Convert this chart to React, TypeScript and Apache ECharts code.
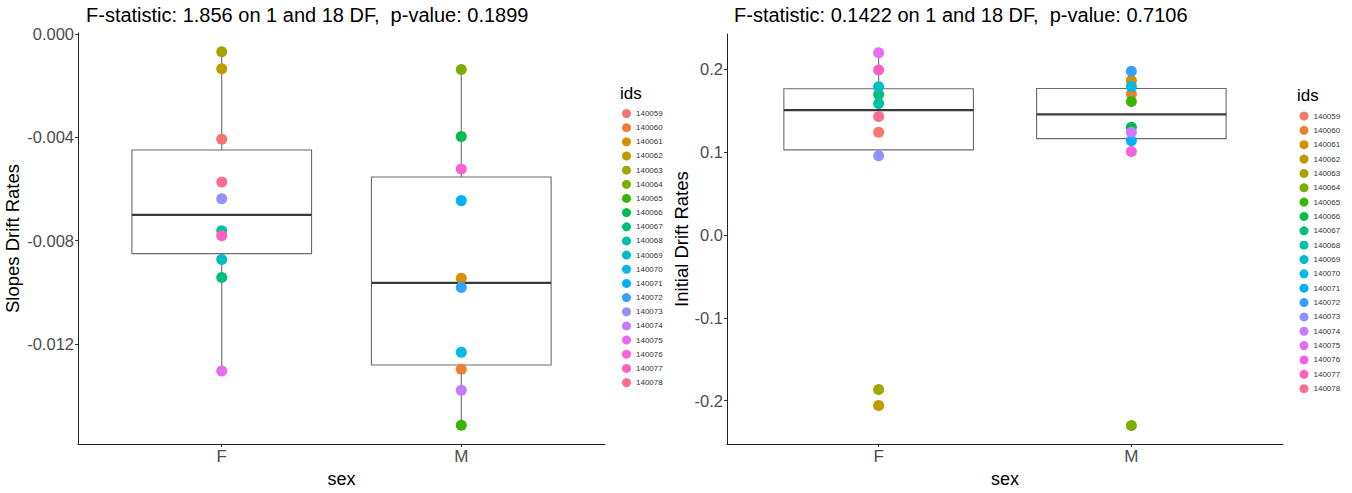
import React, { useEffect, useRef } from "react";
import * as echarts from "echarts";

const ids = [
  "140059", "140060", "140061", "140062", "140063", "140064", "140065", "140066", "140067", "140068",
  "140069", "140070", "140071", "140072", "140073", "140074", "140075", "140076", "140077", "140078",
];
const idColors = [
  "#F8766D", "#EA8331", "#D89000", "#C09B00", "#A3A500", "#7CAE00", "#39B600", "#00BB4E", "#00BF7D", "#00C1A3",
  "#00BFC4", "#00BAE0", "#00B0F6", "#35A2FF", "#9590FF", "#C77CFF", "#E76BF3", "#FA62DB", "#FF62BC", "#FF6C91",
];
const sexCategories = ["F", "M"];
const sexOfId = ["F", "M", "M", "F", "F", "M", "M", "M", "F", "F", "F", "M", "M", "M", "F", "M", "F", "M", "F", "F"];
const slopes = [
  -0.00408, -0.01297, -0.00945, -0.00135, -0.00069, -0.00138, -0.01514, -0.00397, -0.00942, -0.00762,
  -0.00873, -0.01231, -0.00645, -0.00981, -0.00638, -0.01378, -0.01304, -0.00523, -0.00781, -0.00573,
];
const initials = [
  0.124, 0.170, 0.1865, -0.2058, -0.1865, -0.2299, 0.161, 0.130, 0.1696, 0.1586,
  0.1787, 0.179, 0.1137, 0.1975, 0.0956, 0.124, 0.220, 0.1007, 0.199, 0.1429,
];
const leftTicks = [0, -0.004, -0.008, -0.012];
const rightTicks = [0.2, 0.1, 0, -0.1, -0.2];
const leftTitle = "F-statistic: 1.856 on 1 and 18 DF,  p-value: 0.1899";
const rightTitle = "F-statistic: 0.1422 on 1 and 18 DF,  p-value: 0.7106";

function quantile(sorted: number[], p: number) {
  const h = (sorted.length - 1) * p;
  const lo = Math.floor(h);
  const hi = Math.ceil(h);
  return sorted[lo] + (h - lo) * (sorted[hi] - sorted[lo]);
}

function boxStats(values: number[]) {
  return sexCategories.map((s, ci) => {
    const v = values.filter((_, i) => sexOfId[i] === s).sort((a, b) => a - b);
    const q1 = quantile(v, 0.25);
    const med = quantile(v, 0.5);
    const q3 = quantile(v, 0.75);
    const iqr = q3 - q1;
    const inside = v.filter((x) => x >= q1 - 1.5 * iqr && x <= q3 + 1.5 * iqr);
    return [ci + 1, Math.min(...inside), q1, med, q3, Math.max(...inside)];
  });
}

function range(values: number[]) {
  const mn = Math.min(...values);
  const mx = Math.max(...values);
  const e = (mx - mn) * 0.05;
  return [mn - e, mx + e];
}

const FONT = "'Liberation Sans', Arial, Helvetica, sans-serif";

function renderBox(params: any, api: any) {
  const x = api.value(0);
  const half = api.size([0.75, 0])[0] / 2;
  const pLo = api.coord([x, api.value(1)]);
  const pQ1 = api.coord([x, api.value(2)]);
  const pMed = api.coord([x, api.value(3)]);
  const pQ3 = api.coord([x, api.value(4)]);
  const pHi = api.coord([x, api.value(5)]);
  const lineStyle = { stroke: "#6b6b6b", lineWidth: 1.1 };
  return {
    type: "group",
    children: [
      { type: "line", shape: { x1: pHi[0], y1: pHi[1], x2: pQ3[0], y2: pQ3[1] }, style: lineStyle },
      { type: "line", shape: { x1: pQ1[0], y1: pQ1[1], x2: pLo[0], y2: pLo[1] }, style: lineStyle },
      {
        type: "rect",
        shape: { x: pQ3[0] - half, y: pQ3[1], width: half * 2, height: pQ1[1] - pQ3[1] },
        style: { fill: "#ffffff", stroke: "#6b6b6b", lineWidth: 1.1 },
      },
      {
        type: "line",
        shape: { x1: pMed[0] - half, y1: pMed[1], x2: pMed[0] + half, y2: pMed[1] },
        style: { stroke: "#3a3a3a", lineWidth: 2.2 },
      },
    ],
  };
}

export default function App() {
  const ref = useRef<HTMLDivElement>(null);
  useEffect(() => {
    document.body.style.margin = "0";
    const chart = echarts.init(ref.current!, null, { renderer: "svg" });
    const lRange = range(slopes);
    const rRange = range(initials);

    const xAxisBase = (gridIndex: number) => ({
      type: "value",
      gridIndex,
      min: 0.4,
      max: 2.6,
      name: "sex",
      nameLocation: "middle",
      nameGap: 20,
      nameTextStyle: { fontFamily: FONT, fontSize: 18, color: "#000" },
      axisLine: { show: true, onZero: false, lineStyle: { color: "#222", width: 1 } },
      axisTick: { show: true, length: 3, lineStyle: { color: "#333" }, customValues: [1, 2] },
      axisLabel: {
        show: true,
        margin: 4,
        customValues: [1, 2],
        formatter: (v: number) => sexCategories[Math.round(v) - 1] ?? "",
        fontFamily: FONT,
        fontSize: 17,
        color: "#4d4d4d",
      },
      splitLine: { show: false },
    });

    const series: any[] = [
      {
        type: "custom",
        xAxisIndex: 0,
        yAxisIndex: 0,
        z: 1,
        renderItem: renderBox,
        encode: { x: 0, y: [1, 2, 3, 4, 5] },
        data: boxStats(slopes),
        silent: true,
      },
      {
        type: "custom",
        xAxisIndex: 1,
        yAxisIndex: 1,
        z: 1,
        renderItem: renderBox,
        encode: { x: 0, y: [1, 2, 3, 4, 5] },
        data: boxStats(initials),
        silent: true,
      },
    ];
    ids.forEach((id, i) => {
      const xPos = sexCategories.indexOf(sexOfId[i]) + 1;
      series.push({
        type: "scatter",
        name: id,
        xAxisIndex: 0,
        yAxisIndex: 0,
        z: 5,
        symbolSize: 11,
        itemStyle: { color: idColors[i], opacity: 1 },
        data: [[xPos, slopes[i]]],
      });
      series.push({
        type: "scatter",
        name: id,
        xAxisIndex: 1,
        yAxisIndex: 1,
        z: 5,
        symbolSize: 11,
        itemStyle: { color: idColors[i], opacity: 1 },
        data: [[xPos, initials[i]]],
      });
    });

    const legendBase = {
      orient: "vertical",
      icon: "circle",
      itemWidth: 9,
      itemHeight: 9,
      data: ids,
      textStyle: { fontFamily: FONT, fontSize: 8, color: "#333" },
      selectedMode: false,
      padding: 0,
    };

    const titleStyle = { fontFamily: FONT, fontSize: 20, fontWeight: "normal", color: "#000" };
    chart.setOption({
      animation: false,
      backgroundColor: "#ffffff",
      title: [
        { text: leftTitle, left: 86, top: 5, textStyle: titleStyle, padding: 0 },
        { text: rightTitle, left: 734, top: 5, textStyle: titleStyle, padding: 0 },
        { text: "ids", left: 620, top: 85, textStyle: { fontFamily: FONT, fontSize: 17, fontWeight: "normal", color: "#000" }, padding: 0 },
        { text: "ids", left: 1297, top: 87, textStyle: { fontFamily: FONT, fontSize: 17, fontWeight: "normal", color: "#000" }, padding: 0 },
      ],
      legend: [
        { ...legendBase, left: 622, top: 109, itemGap: 5.16 },
        { ...legendBase, left: 1299.5, top: 111.5, itemGap: 5.35 },
      ],
      grid: [
        { left: 78, top: 33, width: 527, height: 411, containLabel: false },
        { left: 727, top: 34, width: 556, height: 418, containLabel: false },
      ],
      xAxis: [xAxisBase(0), xAxisBase(1)],
      yAxis: [
        {
          type: "value",
          gridIndex: 0,
          min: lRange[0],
          max: lRange[1],
          name: "Slopes Drift Rates",
          nameLocation: "middle",
          nameGap: 56,
          nameTextStyle: { fontFamily: FONT, fontSize: 18.5, color: "#000" },
          axisLine: { show: true, onZero: false, lineStyle: { color: "#222", width: 1 } },
          axisTick: { show: true, length: 3, lineStyle: { color: "#333" }, customValues: leftTicks },
          axisLabel: {
            margin: 4,
            customValues: leftTicks,
            formatter: (v: number) => (Math.abs(v) < 1e-12 ? 0 : v).toFixed(3),
            fontFamily: FONT,
            fontSize: 16.5,
            color: "#4d4d4d",
          },
          splitLine: { show: false },
        },
        {
          type: "value",
          gridIndex: 1,
          min: rRange[0],
          max: rRange[1],
          name: "Initial Drift Rates",
          nameLocation: "middle",
          nameGap: 35,
          nameTextStyle: { fontFamily: FONT, fontSize: 18.5, color: "#000" },
          axisLine: { show: true, onZero: false, lineStyle: { color: "#222", width: 1 } },
          axisTick: { show: true, length: 3, lineStyle: { color: "#333" }, customValues: rightTicks },
          axisLabel: {
            margin: 4,
            customValues: rightTicks,
            formatter: (v: number) => (Math.abs(v) < 1e-12 ? 0 : v).toFixed(1),
            fontFamily: FONT,
            fontSize: 16.5,
            color: "#4d4d4d",
          },
          splitLine: { show: false },
        },
      ],
      series,
    });
    return () => chart.dispose();
  }, []);
  return <div ref={ref} style={{ width: 1352, height: 493 }} />;
}
